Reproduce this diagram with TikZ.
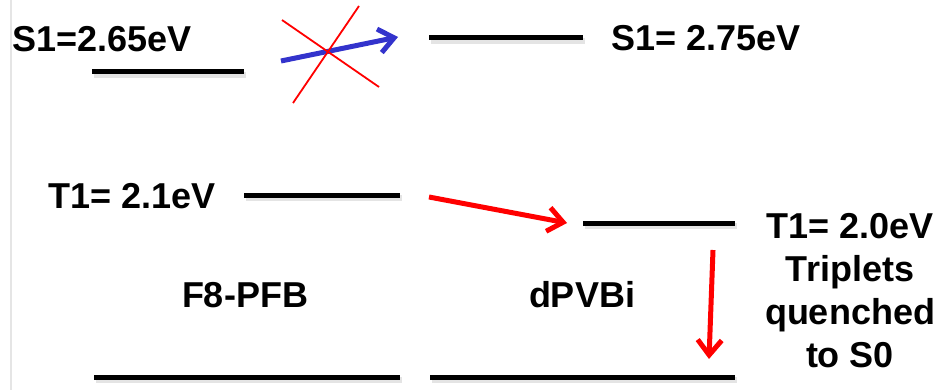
\documentclass[tikz,border=0pt]{standalone}
\usepackage{fontspec}
\setmainfont{Liberation Sans}
\usetikzlibrary{arrows.meta}
\definecolor{arrblue}{RGB}{51,51,204}
\tikzset{
  lbl/.style={inner sep=0pt, font=\fontsize{36}{43}\selectfont\bfseries, text=black},
  level/.style={line width=5pt, black},
  lvlshadow/.style={line width=6pt, gray!35, opacity=0.6},
  bluearrow/.style={line width=5pt, arrblue, -{Straight Barb[length=15pt,width=24pt,line width=5pt]}},
  redarrow/.style={line width=5pt, red, -{Straight Barb[length=15pt,width=24pt,line width=5pt]}},
  cross/.style={line width=1.8pt, red}
}
\begin{document}
\begin{tikzpicture}[x=1pt,y=-1pt]
\useasboundingbox (0,0) rectangle (952,390);
% faint left border
\coordinate (lt) at (11,0); \coordinate (lb) at (11,390);
\draw[gray!20, line width=2pt] (lt) -- (lb);
% level endpoints
\coordinate (s1la) at (92,72);  \coordinate (s1lb) at (244,72);
\coordinate (s1ra) at (429,38); \coordinate (s1rb) at (583,38);
\coordinate (t1la) at (244,195); \coordinate (t1lb) at (400,195);
\coordinate (t1ra) at (583,223); \coordinate (t1rb) at (735,223);
\coordinate (s0la) at (94,377); \coordinate (s0lb) at (400,377);
\coordinate (s0ra) at (430,377); \coordinate (s0rb) at (735,377);
% shadows
\foreach \a/\b in {s1la/s1lb,s1ra/s1rb,t1la/t1lb,t1ra/t1rb,s0la/s0lb,s0ra/s0rb}{
  \draw[lvlshadow] ([shift={(2,3)}]\a) -- ([shift={(2,3)}]\b);
}
% levels
\foreach \a/\b in {s1la/s1lb,s1ra/s1rb,t1la/t1lb,t1ra/t1rb,s0la/s0lb,s0ra/s0rb}{
  \draw[level] (\a) -- (\b);
}
% labels
\node[lbl, anchor=base west] (s1l) at (12,52) {S1=2.65eV};
\node[lbl, anchor=base west] (s1r) at (611,51) {S1= 2.75eV};
\node[lbl, anchor=base west] (t1l) at (48,208) {T1= 2.1eV};
\node[lbl, anchor=base] (f8) at (245,307) {F8-PFB};
\node[lbl, anchor=base] (dp) at (582,307) {dPVBi};
\node[lbl, anchor=base, align=center] (t1r) at (850,367) {T1= 2.0eV\\Triplets\\quenched\\to S0};
% blue arrow (forbidden)
\coordinate (ba) at (281,61); \coordinate (bb) at (398,37);
\draw[bluearrow] (ba) -- (bb);
% red cross
\coordinate (c1a) at (282,20); \coordinate (c1b) at (379,87);
\coordinate (c2a) at (359,6);  \coordinate (c2b) at (293,103);
\draw[cross] (c1a) -- (c1b);
\draw[cross] (c2a) -- (c2b);
% red arrows
\coordinate (r1a) at (429,197); \coordinate (r1b) at (567,223);
\draw[redarrow] (r1a) -- (r1b);
\coordinate (r2a) at (713,250); \coordinate (r2b) at (709,359);
\draw[redarrow] (r2a) -- (r2b);
\end{tikzpicture}
\end{document}
